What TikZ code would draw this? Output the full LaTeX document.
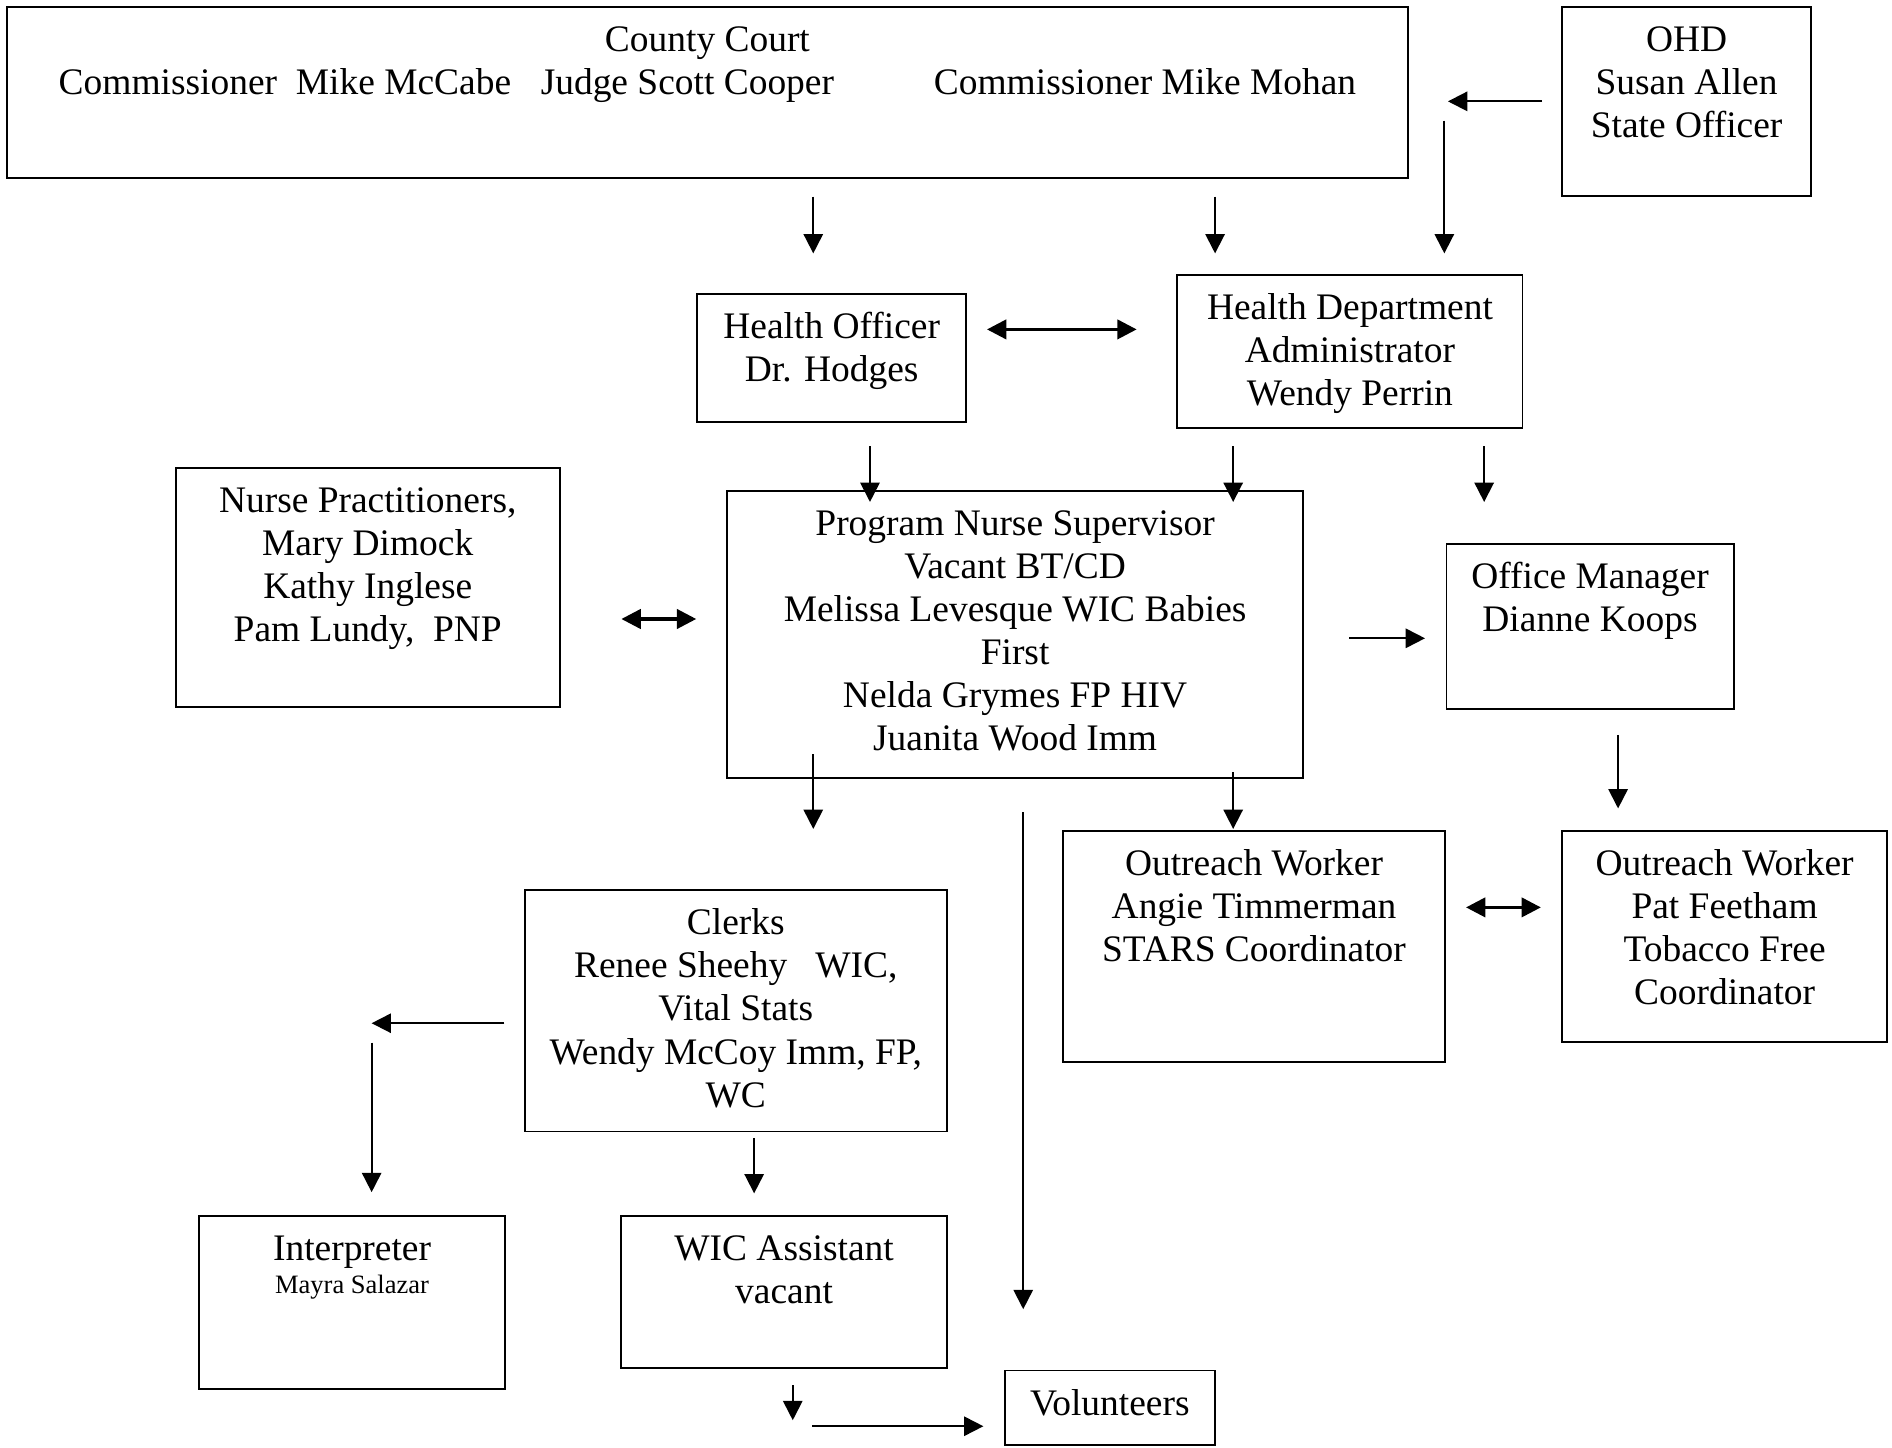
\documentclass[tikz,border=0pt]{standalone}
\usepackage{fontspec}
\setmainfont{Liberation Serif}
\usetikzlibrary{arrows.meta}

\newlength{\unitpx}
\setlength{\unitpx}{0.3867pt}
% box text: width, height (in px), lines
\newcommand{\boxtext}[3]{\parbox[t][#2\unitpx][t]{#1\unitpx}{\centering\rule{0pt}{14.3pt}#3\par}}

\begin{document}
\begin{tikzpicture}[x=0.3867pt, y=-0.3867pt,
  font=\fontsize{12}{13.8}\selectfont,
  box/.style={draw, line width=0.6pt, inner sep=0pt, anchor=north west},
  arr/.style={-{Triangle[length=6.2pt,width=6.2pt]}, line width=0.6pt},
  darr/.style={{Triangle[length=6.2pt,width=6.2pt]}-{Triangle[length=6.2pt,width=6.2pt]}, line width=1pt}]

\useasboundingbox (0,0) rectangle (1568,1200);

% top row
\node[box] (court) at (5,5) {\boxtext{1161}{142}{County Court\\
  Commissioner\hspace{6pt}Mike McCabe\hspace{9.5pt}Judge Scott Cooper\hspace{32pt}Commissioner Mike Mohan}};
\node[box] (ohd) at (1294,5) {\boxtext{206}{157}{OHD\\ Susan Allen\\ State Officer}};

% health officer and administrator
\node[box] (ho) at (577,243) {\boxtext{223}{106}{Health Officer\\ Dr. Hodges}};
\node[box] (hda) at (975,227) {\boxtext{286}{127}{Health Department\\ Administrator\\ Wendy Perrin}};

% middle row
\node[box] (np) at (145,387) {\boxtext{318}{198}{Nurse Practitioners,\\ Mary Dimock\\ Kathy Inglese\\ Pam Lundy,\ \ PNP}};
\node[box] (pns) at (602,406) {\boxtext{477}{238}{Program Nurse Supervisor\\ Vacant BT/CD\\ Melissa Levesque WIC Babies\\ First\\ Nelda Grymes FP HIV\\ Juanita Wood Imm}};
\node[box] (om) at (1198,450) {\boxtext{238}{137}{Office Manager\\ Dianne Koops}};

% outreach workers
\node[box] (ow1) at (880,688) {\boxtext{317}{191}{Outreach Worker\\ Angie Timmerman\\ STARS Coordinator}};
\node[box] (ow2) at (1294,688) {\boxtext{269}{175}{Outreach Worker\\ Pat Feetham\\ Tobacco Free\\ Coordinator}};

% clerks and below
\node[box] (clerks) at (434,737) {\boxtext{350}{200}{Clerks\\ Renee Sheehy\ \ \ WIC,\\ Vital Stats\\ Wendy McCoy Imm, FP,\\ WC}};
\node[box] (interp) at (164,1007) {\boxtext{254}{143}{Interpreter\par{\fontsize{8.5}{10.4}\selectfont Mayra Salazar\par}}};
\node[box] (wic) at (514,1007) {\boxtext{270}{126}{WIC Assistant\\ vacant}};
\node[box] (vol) at (832,1135) {\boxtext{174}{62}{Volunteers}};

% arrow ends
\coordinate (ohd-l) at (1278,84);     \coordinate (court-r) at (1200,84);
\coordinate (ohd-d) at (1197,100);    \coordinate (hda-u2) at (1197,210);
\coordinate (court-d1) at (674,163);  \coordinate (ho-u) at (674,210);
\coordinate (court-d2) at (1007,163); \coordinate (hda-u1) at (1007,210);
\coordinate (ho-r) at (818,273);      \coordinate (hda-l) at (942,273);
\coordinate (ho-d) at (721,370);      \coordinate (pns-u1) at (721,416);
\coordinate (hda-d1) at (1022,370);   \coordinate (pns-u2) at (1022,416);
\coordinate (hda-d2) at (1230,370);   \coordinate (om-u) at (1230,416);
\coordinate (np-r) at (515,513);      \coordinate (pns-l) at (577,513);
\coordinate (pns-r) at (1118,529);    \coordinate (om-l) at (1181,529);
\coordinate (om-d) at (1341,609);     \coordinate (ow2-u) at (1341,670);
\coordinate (pns-d1) at (674,625);    \coordinate (clerks-u) at (674,687);
\coordinate (pns-d2) at (848,673);    \coordinate (vol-u) at (848,1085);
\coordinate (pns-d3) at (1022,640);   \coordinate (ow1-u) at (1022,687);
\coordinate (ow1-r) at (1215,752);    \coordinate (ow2-l) at (1277,752);
\coordinate (clerks-l) at (418,848);  \coordinate (turn) at (308,848);
\coordinate (turn-d) at (308,864);    \coordinate (interp-u) at (308,988);
\coordinate (clerks-d) at (625,943);  \coordinate (wic-u) at (625,989);
\coordinate (wic-d1) at (657,1148);   \coordinate (wic-d2) at (657,1177);
\coordinate (wic-r) at (673,1182);    \coordinate (vol-l) at (815,1182);

% arrows
\draw[arr] (ohd-l) -- (court-r);
\draw[arr] (ohd-d) -- (hda-u2);
\draw[arr] (court-d1) -- (ho-u);
\draw[arr] (court-d2) -- (hda-u1);
\draw[darr] (ho-r) -- (hda-l);
\draw[arr] (ho-d) -- (pns-u1);
\draw[arr] (hda-d1) -- (pns-u2);
\draw[arr] (hda-d2) -- (om-u);
\draw[darr] (np-r) -- (pns-l);
\draw[arr] (pns-r) -- (om-l);
\draw[arr] (om-d) -- (ow2-u);
\draw[arr] (pns-d1) -- (clerks-u);
\draw[arr] (pns-d2) -- (vol-u);
\draw[arr] (pns-d3) -- (ow1-u);
\draw[darr] (ow1-r) -- (ow2-l);
\draw[arr] (clerks-l) -- (turn);
\draw[arr] (turn-d) -- (interp-u);
\draw[arr] (clerks-d) -- (wic-u);
\draw[arr] (wic-d1) -- (wic-d2);
\draw[arr] (wic-r) -- (vol-l);

\end{tikzpicture}
\end{document}
